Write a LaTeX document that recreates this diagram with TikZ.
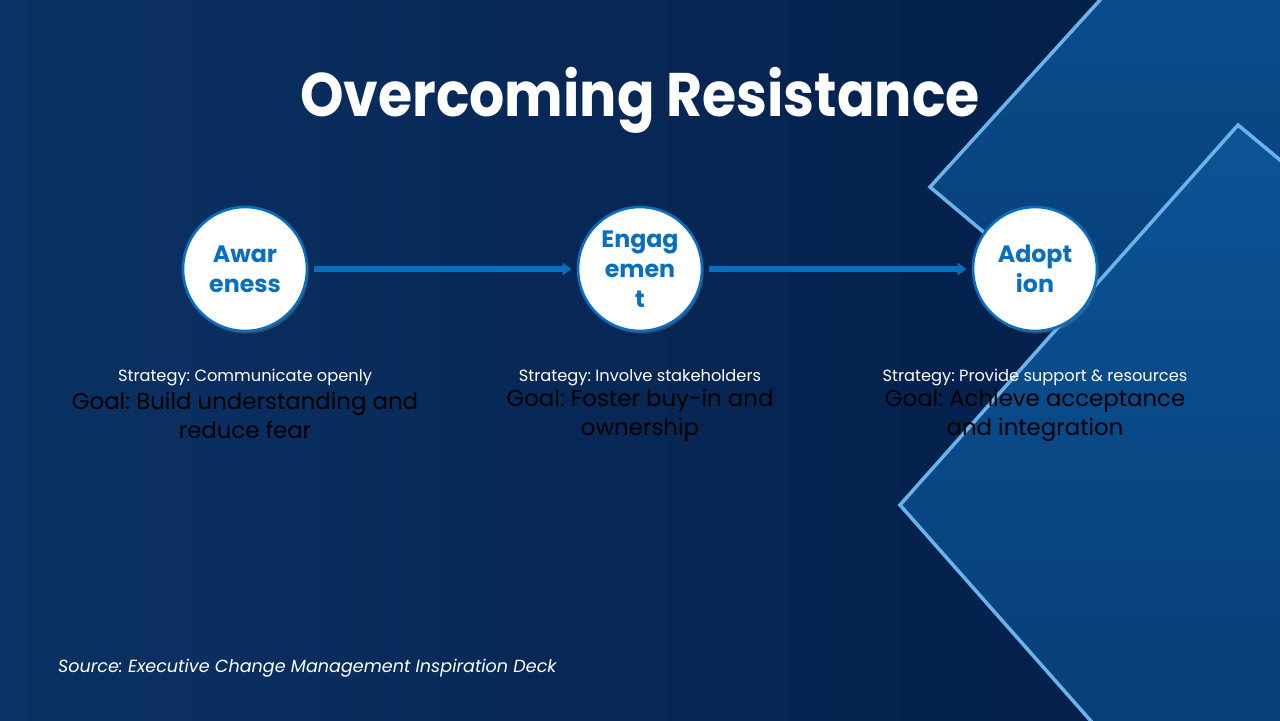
\documentclass[tikz,border=0pt]{standalone}
\usepackage{fontspec}
\setmainfont{Poppins}
\newfontfamily\titlefont{Poppins}[FakeStretch=0.9]
\usetikzlibrary{arrows.meta, positioning, shadows}
\definecolor{bgleft}{RGB}{11,50,100}
\definecolor{bgright}{RGB}{3,28,70}
\definecolor{stageblue}{RGB}{10,110,192}
\definecolor{edgeblue}{RGB}{105,180,235}
\definecolor{diatop}{RGB}{12,84,150}
\definecolor{diabot}{RGB}{6,55,110}
\frenchspacing

\begin{document}
\begin{tikzpicture}[x=0.02cm, y=-0.02cm,
    stage/.style={circle, draw=stageblue, line width=1.5pt, fill=white,
      minimum size=2.48cm, inner sep=0pt, align=center, text=stageblue,
      font=\fontsize{13.5}{17}\selectfont\bfseries,
      drop shadow={opacity=0.35, shadow xshift=1pt, shadow yshift=-1.5pt}},
    strategy/.style={text=white, font=\fontsize{9.25}{11}\selectfont},
    goal/.style={text=black, align=center, font=\fontsize{13}{16.4}\selectfont},
    flow/.style={-{Triangle[length=5pt, width=7pt]}, stageblue, line width=3pt,
      shorten >=3pt, shorten <=3pt},
    diamond edge/.style={draw=edgeblue, line width=2pt}]
    \useasboundingbox (0,0) rectangle (1280,720);
    % background
    \shade[left color=bgleft, right color=bgright] (0,0) rectangle (1280,720);
    \begin{scope}
        \clip (0,0) rectangle (1280,720);
        \shade[top color=diatop, bottom color=diabot, diamond edge]
            (930,187) -- (1270,-187) -- (1654,136) -- (1314,510) -- cycle;
        \shade[top color=diatop, bottom color=diabot, diamond edge]
            (900,505) -- (1238,125) -- (1658,475) -- (1280,935) -- cycle;
    \end{scope}

    \node[text=white, font=\titlefont\fontsize{35}{40}\selectfont\bfseries] (title) at (640,100) {Overcoming Resistance};

    % stages
    \node[stage] (aware) at (245,269) {Awar\\eness};
    \node[stage] (engage) at (640,269) {Engag\\emen\\t};
    \node[stage] (adopt) at (1035,269) {Adopt\\ion};

    \draw[flow] (aware) -- (engage);
    \draw[flow] (engage) -- (adopt);

    \node[strategy] (awarestrat) at (245,378) {Strategy: Communicate openly};
    \node[goal] (awaregoal) at (245,415) {Goal: Build understanding and\\reduce fear};
    \node[strategy] (engagestrat) at (640,378) {Strategy: Involve stakeholders};
    \node[goal] (engagegoal) at (640,415) {Goal: Foster buy-in and\\ownership};
    \node[strategy] (adoptstrat) at (1035,378) {Strategy: Provide support \& resources};
    \node[goal] (adoptgoal) at (1035,415) {Goal: Achieve acceptance\\and integration};

    \node[anchor=west, text=white, font=\fontsize{10}{13}\selectfont\itshape] (source) at (52,668)
        {Source: Executive Change Management Inspiration Deck};
\end{tikzpicture}
\end{document}
